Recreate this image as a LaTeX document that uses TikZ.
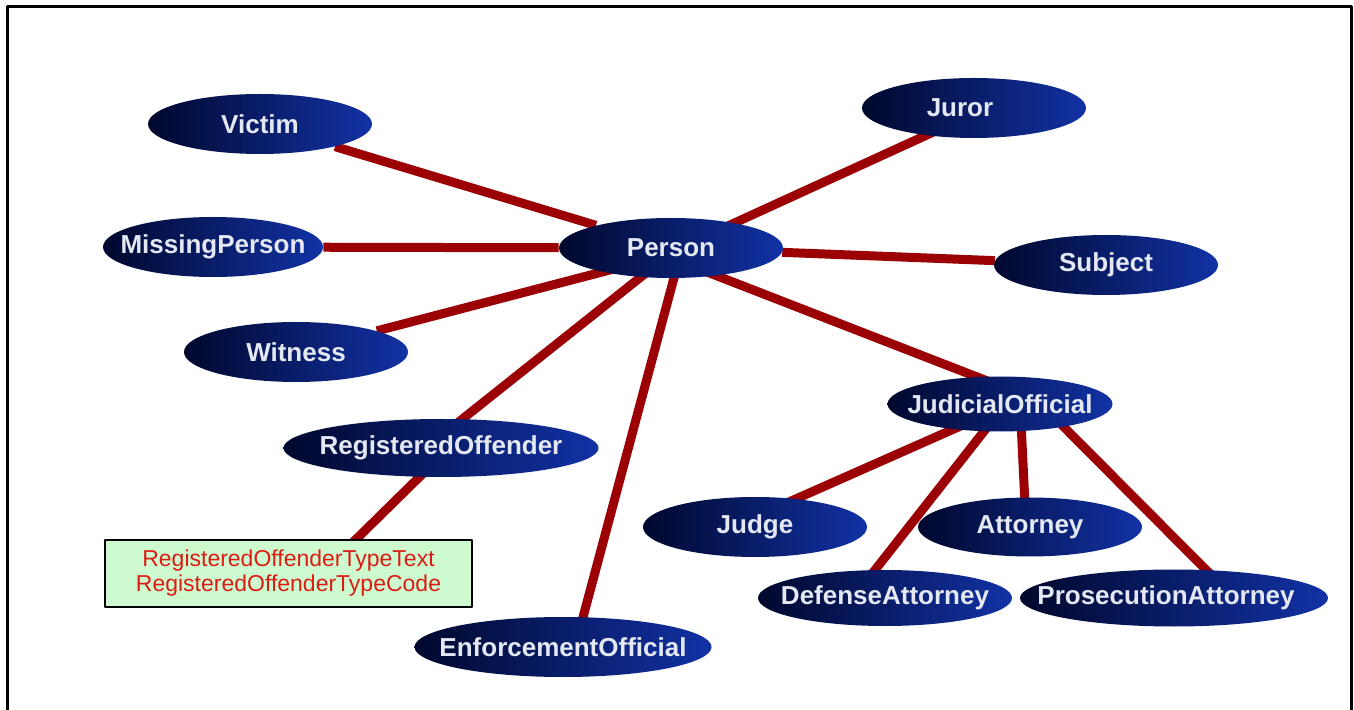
\documentclass[tikz,border=0pt]{standalone}
\usepackage{fontspec}
\setmainfont{Liberation Sans}
\usetikzlibrary{shapes.geometric,backgrounds,calc}
\definecolor{navyleft}{RGB}{0,8,45}
\definecolor{navyright}{RGB}{18,50,165}
\definecolor{entitytext}{RGB}{228,232,242}
\definecolor{linkred}{RGB}{155,0,5}
\definecolor{notegreen}{RGB}{206,250,208}
\definecolor{notered}{RGB}{220,28,20}
\tikzset{
	entity/.style={ellipse, inner sep=0pt, minimum width=#1, minimum height=30pt,
		left color=navyleft, right color=navyright},
	entity/.default=112pt,
	tag/.style={text=entitytext, font=\bfseries\fontsize{13}{15}\selectfont},
	link/.style={line width=4.5pt, color=linkred},
	note/.style={rectangle, draw=black, line width=0.8pt, fill=notegreen, text=notered,
		minimum width=183.5pt, minimum height=33.5pt, align=center,
		font=\fontsize{11.5}{12.5}\selectfont}
}

\begin{document}
\begin{tikzpicture}[line cap=butt, line join=round, x=0.5pt, y=-0.5pt]
		\useasboundingbox (0,0) rectangle (1354,710);
		\draw [line width=1.5pt] (7,710) -- (7,7) -- (1351,7) -- (1351,710);
		% entities
		\node [entity, label={[tag]center:Person}] (person) at (671,248) {};
		\node [entity, label={[tag]center:Victim}] (victim) at (260,124) {};
		\node [entity, label={[tag,xshift=-7pt]center:Juror}] (juror) at (974,108) {};
		\node [entity=110pt, label={[tag]center:MissingPerson}] (missing) at (213,247) {};
		\node [entity, label={[tag]center:Subject}] (subject) at (1106,265) {};
		\node [entity, label={[tag]center:Witness}] (witness) at (296,352) {};
		\node [entity=157.5pt, minimum height=29pt, label={[tag]center:RegisteredOffender}] (offender) at (441,448) {};
		\node [entity=148.5pt, label={[tag]center:EnforcementOfficial}] (enforcement) at (563,647) {};
		\node [entity=112.5pt, minimum height=27.5pt, label={[tag]center:JudicialOfficial}] (judicial) at (1000,404) {};
		\node [entity, label={[tag]center:Judge}] (judge) at (755,527) {};
		\node [entity, minimum height=29.5pt, label={[tag]center:Attorney}] (attorney) at (1030,527) {};
		\node [entity=127pt, minimum height=28pt, label={[tag]center:DefenseAttorney}] (defense) at (885,598) {};
		\node [entity=154pt, minimum height=28.5pt, label={[tag,xshift=-4pt]center:ProsecutionAttorney}] (prosecution) at (1174,598) {};
		\node [note] (codes) at (288.5,573.5) {RegisteredOffenderTypeText\\RegisteredOffenderTypeCode};
		% links
		\begin{scope}[on background layer]
			\draw [link] (person) -- (victim);
			\draw [link] (person) -- (missing);
			\draw [link] ($(person)+(0,6)$) -- (witness);
			\draw [link] ($(person)+(0,5)$) -- ($(offender)+(-15,0)$);
			\draw [link] ($(person)+(11,0)$) -- ($(enforcement)+(12,0)$);
			\draw [link] ($(person)+(0,4)$) -- ($(juror)+(-34,21)$);
			\draw [link] (person) -- (subject);
			\draw [link] ($(person)+(0,10)$) -- ($(judicial)+(-10,-22)$);
			\draw [link] ($(judicial)+(-10,9)$) -- ($(judge)+(0,-10)$);
			\draw [link] ($(judicial)+(7,-2)$) -- ($(defense)+(-32,0)$);
			\draw [link] ($(judicial)+(20,-2)$) -- ($(attorney)+(-4,-2)$);
			\draw [link] ($(judicial)+(39,-2)$) -- ($(prosecution)+(60,0)$);
			\draw [link] ($(offender)+(8,0)$) -- ($(codes)+(50,-17)$);
		\end{scope}
	\end{tikzpicture}
\end{document}
